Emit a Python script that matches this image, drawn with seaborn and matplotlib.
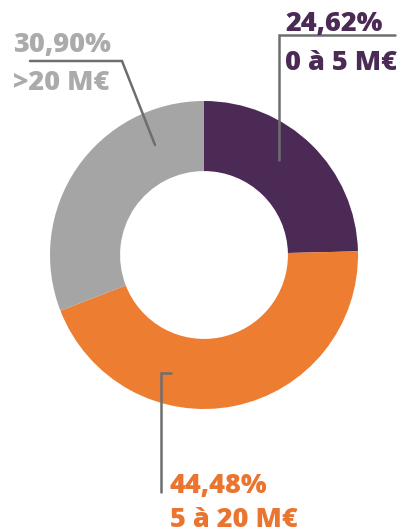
import matplotlib
matplotlib.use("Agg")
import matplotlib.pyplot as plt
import seaborn as sns

categories = ["0 à 5 M€", "5 à 20 M€", ">20 M€"]
values = [24.62, 44.48, 30.90]
pct_labels = ["24,62%", "44,48%", "30,90%"]
colors = ["#4B2A55", "#ED7D31", "#A5A5A5"]
text_colors = ["#4B2A55", "#EA7530", "#ABABAB"]

sns.set_theme(style="white")
plt.rcParams['font.family'] = ['Open Sans', 'DejaVu Sans']

W, H = 410, 532
fig = plt.figure(figsize=(W / 100, H / 100), dpi=100)
ax = fig.add_axes([0, 0, 1, 1])

def Y(y):
    return H - y

cx, cy, R = 204, 255, 154
ax.pie(values, colors=colors, startangle=90, counterclock=False,
       center=(cx, Y(cy)), radius=R,
       wedgeprops=dict(width=R * 0.455, linewidth=0))
ax.set_xlim(0, W)
ax.set_ylim(0, H)
ax.set_aspect('equal')
ax.axis('off')

line_col = "#6E6E6E"
lw = 1.8
# leader lines
ax.plot([279, 279, 395], [Y(160), Y(35), Y(35)], color=line_col, lw=lw, solid_joinstyle='miter')
ax.plot([155, 122, 30], [Y(145), Y(61), Y(61)], color=line_col, lw=lw, solid_joinstyle='miter')
ax.plot([171, 161, 161], [Y(373), Y(373), Y(492)], color=line_col, lw=lw, solid_joinstyle='miter')

fs = 19.5
kw = dict(fontsize=fs, fontweight='heavy', ha='left', va='baseline')
# purple
ax.text(285, Y(31), pct_labels[0], color=text_colors[0], **kw)
ax.text(285, Y(70), categories[0], color=text_colors[0], **kw)
# orange
ax.text(170, Y(493), pct_labels[1], color=text_colors[1], **kw)
ax.text(170, Y(527), categories[1], color=text_colors[1], **kw)
# grey
ax.text(13, Y(52), pct_labels[2], color=text_colors[2], **kw)
ax.text(13, Y(90), categories[2], color=text_colors[2], **kw)

fig.savefig("out.png", dpi=100)
